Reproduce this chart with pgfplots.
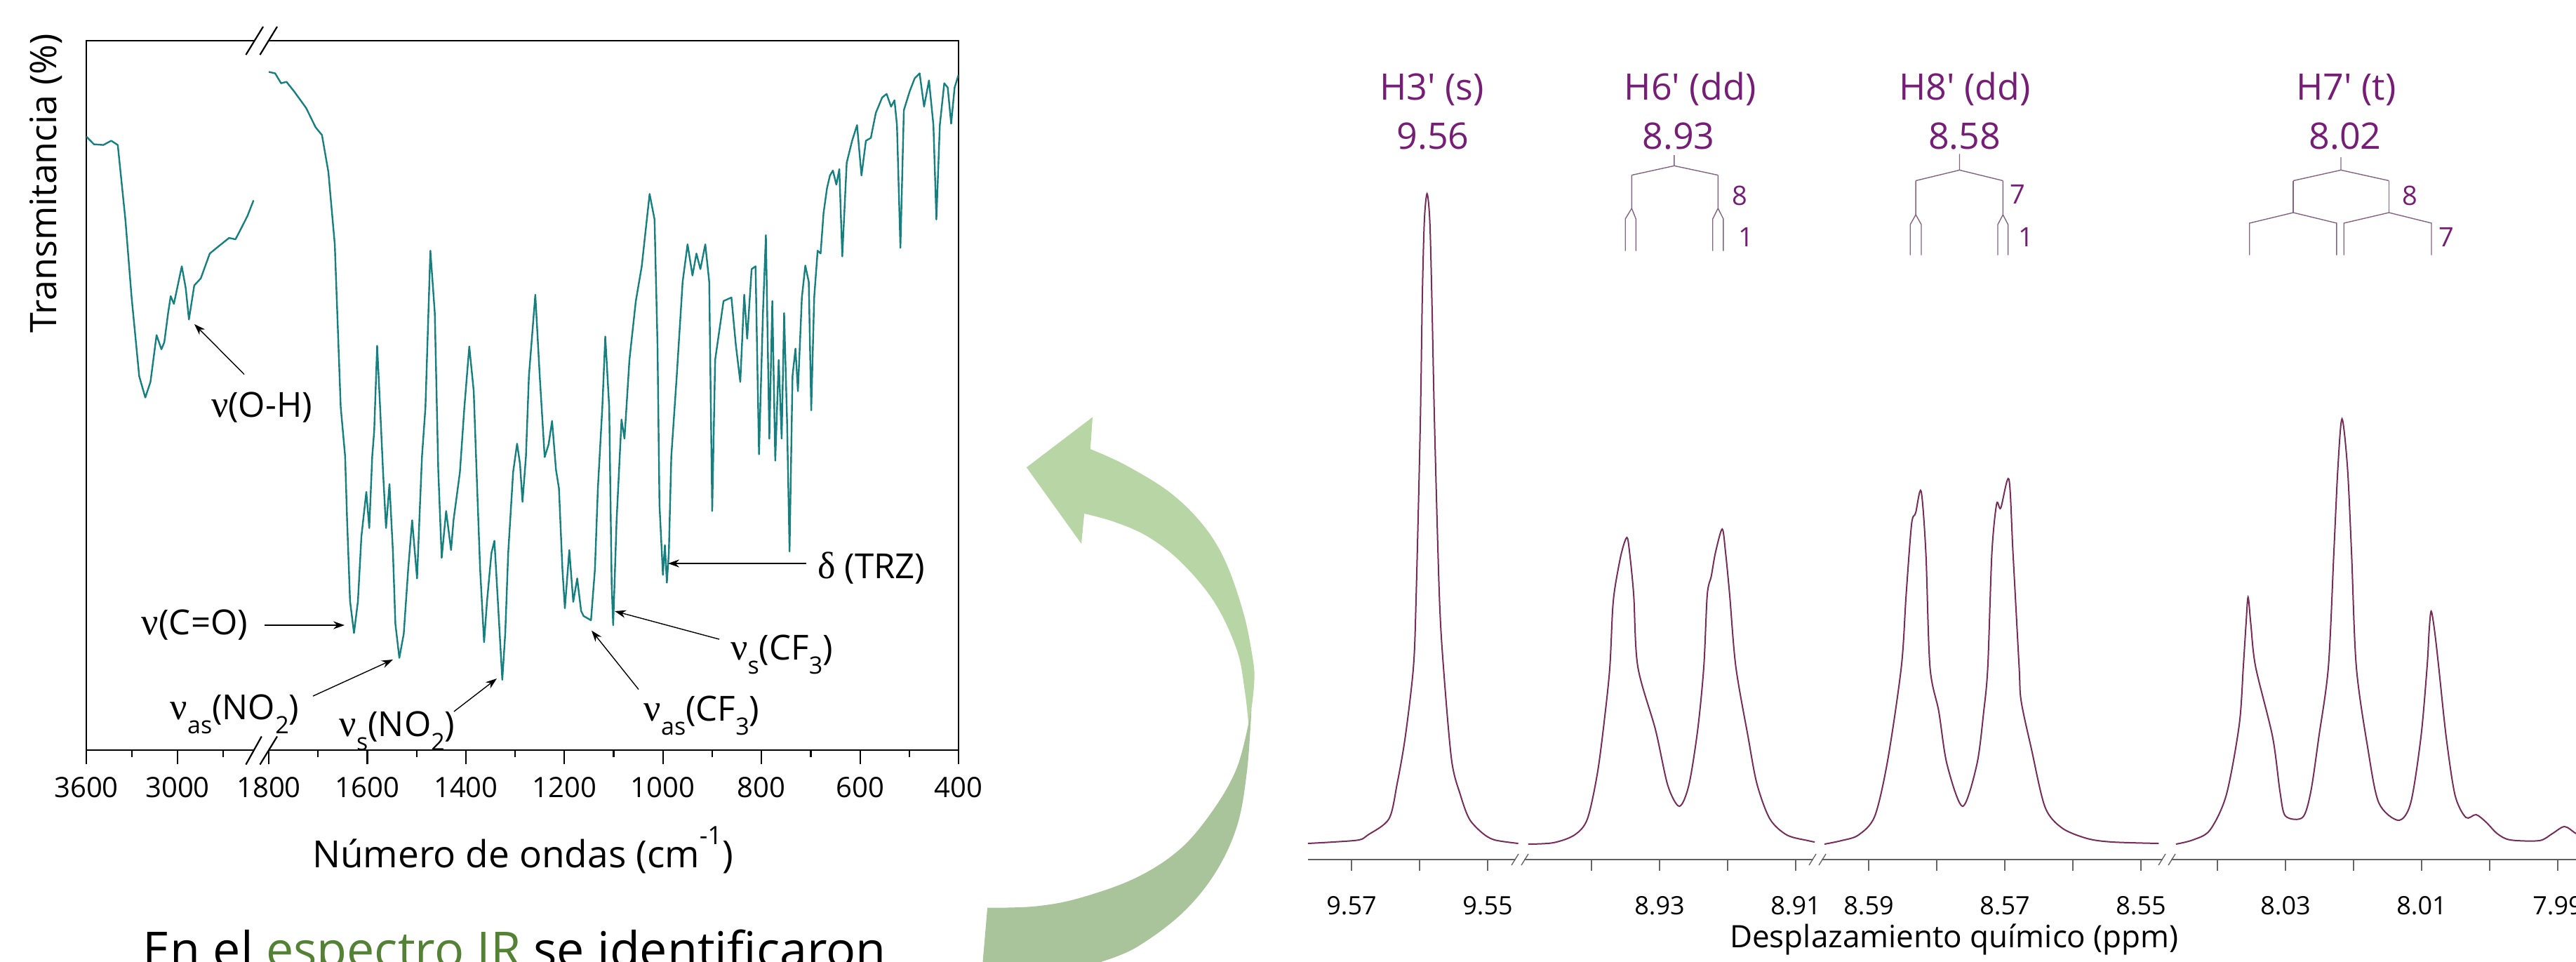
\documentclass[border=0pt]{standalone}
\usepackage{fontspec}
\setmainfont{Open Sans}
\newfontfamily\seriffont{Liberation Serif}
\usepackage{pgfplots}
\pgfplotsset{compat=1.18}
\usetikzlibrary{arrows.meta}
\definecolor{irteal}{RGB}{22,128,128}
\definecolor{nmrline}{RGB}{118,45,88}
\definecolor{nmrlab}{RGB}{118,30,118}
\definecolor{tree}{RGB}{130,100,130}
\definecolor{greenA}{RGB}{183,213,165}
\definecolor{greenB}{RGB}{169,196,154}
\definecolor{irgreen}{RGB}{84,130,53}
\newcommand\sbs[1]{\raisebox{-0.42em}{\fontsize{8.5}{8.5}\selectfont #1}}
\newcommand\nuu{{\seriffont\fontsize{13.5}{14}\selectfont ν}}
\newcommand\dee{{\seriffont\fontsize{13.5}{14}\selectfont δ}}
\begin{document}
\begin{tikzpicture}
\useasboundingbox (0,0) rectangle (917.75pt,-342.5pt);
\begin{scope}
\clip (0,0) rectangle (917.75pt,-342.5pt);
% ---------------- IR spectrum ----------------
\begin{axis}[
  at={(30.75pt,-267.25pt)}, anchor=south west,
  scale only axis, width=310.75pt, height=252.75pt,
  xmin=123, xmax=1366, ymin=0, ymax=100,
  axis line style={line width=0.55pt},
  xtick pos=left, ytick=\empty,
  tick align=outside,
  major tick length=5pt, minor tick length=2.5pt,
  tick style={black, line width=0.55pt},
  xtick={123,253,383,523.4,663.9,804.3,944.7,1085.1,1225.6,1366},
  xticklabels={3600,3000,1800,1600,1400,1200,1000,800,600,400},
  minor xtick={188,318,453.2,593.6,734.1,874.5,1014.9,1155.4,1295.8},
  xticklabel style={font=\fontsize{10}{12}\selectfont, yshift=-1pt},
  /pgf/number format/assume math mode=true,
]
\addplot[irteal, line width=0.6pt, line join=round] table[x expr={123+(3600-\thisrow{w})*0.21667}, y=t] {
w t
3600 86.5
3550 85.4
3488 85.3
3436 85.9
3393 85.3
3343 74.8
3302 63.8
3252 52.7
3212 49.7
3178 51.9
3138 58.5
3106 56.5
3087 57.5
3062 61.6
3045 64.0
3024 62.9
2972 68.2
2946 65.1
2925 60.7
2890 65.5
2847 66.5
2788 70.0
2725 71.1
2661 72.2
2619 72.0
2592 73.1
2540 75.3
2500 77.5
};
\addplot[irteal, line width=0.6pt, line join=round] table[x expr={383+(1800-\thisrow{w})*0.70214}, y=t] {
w t
1800 95.6
1787 95.4
1775 94.0
1764 94.2
1749 92.9
1724 90.5
1705 87.8
1692 86.7
1679 81.5
1666 71.3
1654 48.4
1645 41.4
1641 32.4
1635 21.0
1627 16.5
1619 21.0
1612 30.1
1602 36.4
1596 31.3
1590 41.4
1586 45.0
1580 57.0
1574 48.3
1568 39.2
1562 31.3
1555 37.5
1548 28.0
1543 17.8
1535 13.0
1526 16.4
1517 25.5
1509 32.4
1499 24.2
1494 33.0
1489 41.4
1482 48.3
1472 70.4
1463 61.6
1456 39.5
1449 27.1
1440 33.7
1430 28.2
1425 32.4
1412 39.2
1403 48.3
1393 56.9
1384 50.6
1377 36.9
1371 25.5
1363 15.2
1357 21.0
1348 27.8
1342 29.5
1335 21.0
1326 9.9
1320 16.5
1314 27.8
1304 39.2
1296 43.2
1290 40.3
1285 35.0
1278 41.4
1272 52.7
1259 64.2
1250 52.7
1240 41.3
1232 43.1
1225 46.4
1217 39.5
1211 36.9
1204 25.5
1199 20.0
1190 28.2
1182 20.9
1174 24.2
1166 19.6
1161 18.9
1146 18.3
1138 25.5
1132 36.9
1123 48.3
1117 58.3
1109 48.3
1104 23.3
1101 17.6
1094 32.4
1084 46.6
1078 43.9
1068 55.0
1055 63.3
1043 68.2
1027 78.4
1017 74.8
1011 57.1
1007 34.6
1000 24.7
996 28.9
992 23.6
988 27.8
983 41.4
972 52.7
960 66.0
950 71.3
940 66.9
932 70.0
924 67.8
914 71.3
906 66.0
900 33.7
894 55.0
877 63.3
861 63.8
852 57.1
843 51.9
835 64.2
829 58.0
820 67.8
812 68.2
805 41.7
797 61.6
791 72.6
784 43.9
778 63.3
772 40.8
765 55.0
759 43.9
754 61.6
748 46.2
743 28.0
737 52.7
731 56.6
726 50.6
718 63.8
711 68.3
704 66.0
699 47.9
693 63.8
686 70.4
680 70.0
674 75.7
667 79.2
661 81.0
655 81.7
648 79.7
642 81.9
636 69.6
627 82.8
616 85.9
606 88.1
597 81.0
588 85.9
578 86.3
568 89.8
555 92.0
546 92.5
537 90.7
530 91.6
525 88.1
518 70.8
511 90.2
499 92.9
489 94.7
479 95.4
470 90.7
460 94.4
451 88.1
445 74.8
438 88.1
429 94.0
422 93.4
415 88.3
408 93.4
400 95.2
};
\end{axis}
% ---------------- 1H NMR spectrum ----------------
\begin{axis}[
  at={(466pt,-306.25pt)}, anchor=south west,
  scale only axis, width=459pt, height=291.25pt,
  xmin=1864, xmax=3700, ymin=-26, ymax=1139,
  axis x line=bottom, axis y line=none, ytick=\empty,
  x axis line style={-, draw=gray!75!black, line width=0.7pt},
  tick align=outside, major tick length=4pt,
  tick style={gray!80!black, line width=0.3pt},
  xtick={1926,2023,2120,2268,2365,2462,2559,2663,2760,2857,2954,3051,3160,3257,3354,3451,3548,3645},
  xticklabels={9.57,{},9.55,{},8.93,{},8.91,8.59,{},8.57,{},8.55,{},8.03,{},8.01,{},7.99},
  xticklabel style={font=\fontsize{9}{11}\selectfont, yshift=-5.5pt},
  /pgf/number format/assume math mode=true,
  clip=false,
]
\addplot[nmrline, line width=0.5pt, smooth, tension=0.5] table[x expr={2023+(9.56-\thisrow{p})*9700}, y=h] {
p h
9.5764 -3
9.5727 -1
9.5689 2
9.5676 9
9.5645 32
9.5633 82
9.5621 149
9.5609 249
9.5605 351
9.5599 593
9.5596 775
9.5593 884
9.5589 923
9.5585 884
9.5582 775
9.5578 593
9.5571 351
9.5565 249
9.5553 116
9.5540 66
9.5527 32
9.5508 12
9.5490 2
9.5455 -3
};
\addplot[nmrline, line width=0.5pt, smooth, tension=0.5] table[x expr={2365+(8.93-\thisrow{p})*9700}, y=h] {
p h
8.9493 -4
8.9456 -2
8.9425 9
8.9406 32
8.9391 99
8.9380 182
8.9373 249
8.9369 330
8.9365 365
8.9356 411
8.9348 433
8.9344 411
8.9338 351
8.9332 249
8.9306 159
8.9288 80
8.9271 50
8.9257 80
8.9244 159
8.9235 249
8.9230 351
8.9224 378
8.9218 411
8.9208 445
8.9203 411
8.9197 351
8.9188 249
8.9170 149
8.9157 82
8.9138 32
8.9113 9
8.9082 1
8.9072 -1
};
\addplot[nmrline, line width=0.5pt, smooth, tension=0.5] table[x expr={2857+(8.57-\thisrow{p})*9700}, y=h] {
p h
8.5965 -4
8.5940 1
8.5915 9
8.5891 36
8.5872 116
8.5852 249
8.5845 351
8.5837 452
8.5831 468
8.5823 499
8.5816 411
8.5810 249
8.5797 185
8.5785 110
8.5762 50
8.5741 110
8.5731 185
8.5725 249
8.5719 411
8.5712 481
8.5706 475
8.5694 516
8.5688 411
8.5679 249
8.5676 200
8.5661 132
8.5641 49
8.5616 19
8.5579 4
8.5542 -1
8.5474 -3
};
\addplot[nmrline, line width=0.5pt, smooth, tension=0.5] table[x expr={3354+(8.02-\thisrow{p})*9700}, y=h] {
p h
8.0461 -4
8.0436 2
8.0411 16
8.0387 66
8.0368 166
8.0362 249
8.0358 310
8.0355 348
8.0351 310
8.0344 249
8.0319 149
8.0308 70
8.0300 36
8.0275 34
8.0263 70
8.0251 149
8.0237 249
8.0229 411
8.0223 533
8.0217 602
8.0209 533
8.0203 411
8.0196 249
8.0179 132
8.0163 55
8.0134 30
8.0116 55
8.0101 149
8.0092 249
8.0089 300
8.0086 328
8.0081 300
8.0075 249
8.0064 149
8.0051 66
8.0035 34
8.0020 38
8.0005 27
7.9989 11
7.9970 2
7.9927 1
7.9908 11
7.9890 21
7.9873 11
7.9854 3
};
\end{axis}
% ---------------- annotations (pixel coordinates) ----------------
\begin{scope}[x=0.25pt,y=-0.25pt, every node/.style={inner sep=0pt}]
% IR axis breaks
\draw[white, line width=1.3pt] (362.7,58) -- (382.8,58);
\draw[line width=0.55pt] (350.4,78.1) -- (375,38) (370.5,78.1) -- (395,38);
\draw[white, line width=1.3pt] (362,1069) -- (383,1069);
\draw[line width=0.55pt] (350.4,1089.6) -- (372.8,1049.5) (370.5,1089.6) -- (395,1049.5);
% IR labels
\node[rotate=90, anchor=base, font=\fontsize{13}{15}\selectfont] at (80,261.5) {Transmitancia (\%)};
\node[anchor=base, font=\fontsize{13.3}{15}\selectfont] at (745,1236) {Número de ondas (cm\raisebox{0.62em}{\fontsize{9}{9}\selectfont -1})};
\begin{scope}[font=\fontsize{12.3}{14}\selectfont]
\node[anchor=base] at (373,594) {\nuu(O-H)};
\node[anchor=base] at (277.5,904) {\nuu(C=O)};
\node[anchor=base] at (334.5,1025) {\nuu\sbs{as}(NO\sbs{2})};
\node[anchor=base] at (566,1049) {\nuu\sbs{s}(NO\sbs{2})};
\node[anchor=base] at (1000,1027) {\nuu\sbs{as}(CF\sbs{3})};
\node[anchor=base] at (1114,940) {\nuu\sbs{s}(CF\sbs{3})};
\node[anchor=base] at (1242,824) {\dee{} (TRZ)};
\end{scope}
\begin{scope}[-{Stealth[length=4pt,width=2.8pt]}, line width=0.35pt]
\draw (348,533.5) -- (277,462);
\draw (377,891) -- (491,891);
\draw (446,992) -- (560,940);
\draw (647,1014) -- (708,967);
\draw (910,982.5) -- (843,898.6);
\draw (1025,911) -- (876,871);
\draw (1149,803) -- (952,803);
\end{scope}
% bottom text
\node[anchor=base west, font=\fontsize{17.5}{20}\selectfont] at (203,1378) {En el \textcolor{irgreen}{espectro IR} se identificaron};
% green curved arrow
\fill[greenA] (1462.9,666.1) -- (1557,594.5) -- (1553.8,640)
  -- plot[smooth, tension=0.6] coordinates {(1553.8,640) (1603.2,662.4) (1667,701.7) (1714.8,748.7) (1746.7,801) (1772.2,874.3) (1785,937) (1787.5,968.4) (1783.4,1010.3) (1779.2,1031.2)}
  -- plot[smooth, tension=0.6] coordinates {(1779.2,1031.2) (1773.8,984) (1762.7,926.6) (1730.8,858.6) (1682.9,801) (1635.1,764.4) (1587.3,743.5) (1545.2,732)}
  -- (1541,774.9) -- cycle;
\fill[greenB] (1779.2,1031.2)
  -- plot[smooth, tension=0.6] coordinates {(1779.2,1031.2) (1762.7,1094) (1730.8,1151.5) (1682.9,1209) (1619.2,1250.8) (1539.4,1279.6) (1475.7,1291.6) (1407.1,1293.7)}
  -- (1398,1400) -- (1510,1400)
  -- plot[smooth, tension=0.6] coordinates {(1571.3,1370) (1619.2,1350.2) (1682.9,1303.1) (1730.8,1245.6) (1762.7,1177.6) (1777,1099.2) (1783.4,1010.3)}
  -- cycle;
% NMR axis breaks
\foreach \bx in {2166,2590,3088}{
  \draw[white, line width=1.4pt] (\bx-6,1225) -- (\bx+6,1225);
  \draw[gray!80!black, line width=0.35pt] (\bx-12,1233) -- (\bx-2,1217) (\bx+2,1233) -- (\bx+12,1217);
}
\node[anchor=base, font=\fontsize{11}{13}\selectfont] at (2785,1350) {Desplazamiento químico (ppm)};
% NMR assignments
\begin{scope}[nmrlab, font=\fontsize{13}{15}\selectfont]
\node[anchor=base] at (2040.5,142.4) {H3\textquotesingle{} (s)};
\node[anchor=base] at (2042,212) {9.56};
\node[anchor=base] at (2408.6,142.4) {H6\textquotesingle{} (dd)};
\node[anchor=base] at (2392,212) {8.93};
\node[anchor=base] at (2800,142.4) {H8\textquotesingle{} (dd)};
\node[anchor=base] at (2799.5,212) {8.58};
\node[anchor=base] at (3343.5,142.4) {H7\textquotesingle{} (t)};
\node[anchor=base] at (3342,212) {8.02};
\end{scope}
\begin{scope}[nmrlab, font=\fontsize{9.5}{11}\selectfont]
\node[anchor=base west] at (2468,292) {8};
\node[anchor=base west] at (2477,351.4) {1};
\node[anchor=base west] at (2863.4,290.8) {7};
\node[anchor=base west] at (2875.5,351.4) {1};
\node[anchor=base west] at (3422.6,292) {8};
\node[anchor=base west] at (3475,351.4) {7};
\end{scope}
\begin{scope}[tree, line width=0.35pt]
\draw (2385.9,221.1) -- (2385.9,236.3) (2325.3,249.6) -- (2385.9,236.3) -- (2448.3,249.6);
\draw (2325.3,249.6) -- (2325.3,296.9) (2316.2,357.5) -- (2316.2,312) -- (2325.3,296.9) -- (2331.3,312) -- (2331.3,357.5);
\draw (2448.3,249.6) -- (2448.3,296.9) (2440.7,357.5) -- (2440.7,312) -- (2448.3,296.9) -- (2455.9,312) -- (2455.9,357.5);
\draw (2792.5,219.3) -- (2792.5,242.4) (2730.1,257.5) -- (2792.5,242.4) -- (2854.3,257.5);
\draw (2730.1,257.5) -- (2730.1,306) (2722.2,363.5) -- (2722.2,320) -- (2730.1,306) -- (2738,320) -- (2738,363.5);
\draw (2854.3,257.5) -- (2854.3,306) (2847,363.5) -- (2847,320) -- (2854.3,306) -- (2861.6,320) -- (2861.6,363.5);
\draw (3336,224) -- (3336,242.4) (3268.1,257.5) -- (3336,242.4) -- (3404.4,257.5);
\draw (3268.1,257.5) -- (3268.1,303) (3404.4,257.5) -- (3404.4,303);
\draw (3205.7,363.5) -- (3205.7,318) -- (3268.1,303) -- (3329.9,318) -- (3329.9,363.5);
\draw (3340.2,363.5) -- (3340.2,318) -- (3404.4,303) -- (3465,318) -- (3465,363.5);
\end{scope}
\end{scope}
\end{scope}
\end{tikzpicture}
\end{document}
